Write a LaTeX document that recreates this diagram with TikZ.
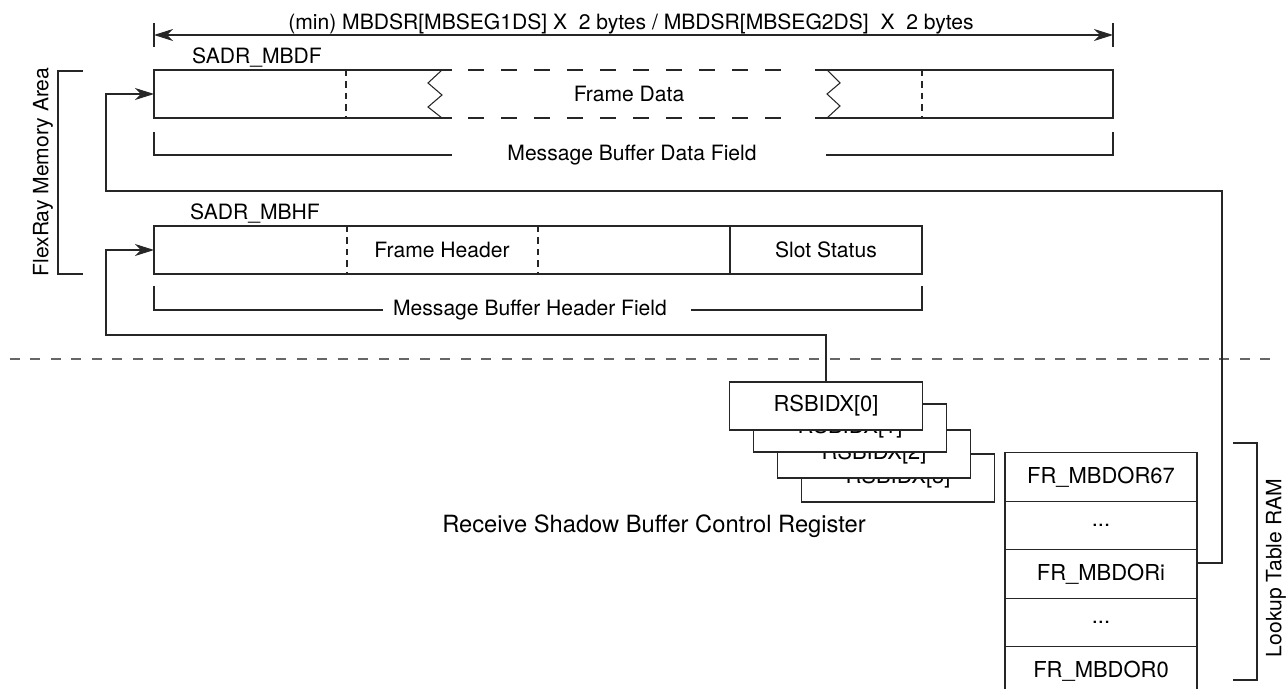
\documentclass[tikz,border=0pt]{standalone}
\usepackage{fontspec}
\setmainfont{TeX Gyre Heros}
\usepackage{tikz}
\usetikzlibrary{arrows.meta,positioning,calc}
\tikzset{
  lbl/.style={font=\fontsize{12}{14}\selectfont, inner sep=1pt},
  wire/.style={line width=0.6pt, draw=black!85},
  arr/.style={wire, -{Stealth[length=3.8mm, width=2.4mm, inset=1.2mm]}},
  dimarr/.style={wire, {Stealth[length=3.8mm, width=2.4mm, inset=1.2mm]}-{Stealth[length=3.8mm, width=2.4mm, inset=1.2mm]}},
  longdash/.style={wire, dash pattern=on 0.32cm off 0.34cm},
  shortdash/.style={wire, dash pattern=on 0.13cm off 0.1cm},
  sepline/.style={line width=0.6pt, draw=black!60, dash pattern=on 0.2cm off 0.21cm},
  regbox/.style={rectangle, draw=black!85, line width=0.6pt, fill=white, minimum width=3.86cm,
                 minimum height=0.96cm, inner sep=0pt, outer sep=0pt, font=\fontsize{12.5}{14}\selectfont},
  lutrow/.style={rectangle, draw=black!85, line width=0.6pt, fill=white, minimum width=3.84cm,
                 minimum height=0.97cm, inner sep=0pt, outer sep=0pt, font=\fontsize{12.5}{14}\selectfont},
}

\begin{document}
\begin{tikzpicture}[x=0.02cm, y=-0.02cm, node distance=0pt]
  \useasboundingbox (0,0) rectangle (1286,689);

  % size of the data field
  \node[lbl, anchor=base] (dimtxt) at (631,30) {(min) MBDSR[MBSEG1DS] X~~2 bytes / MBDSR[MBSEG2DS]~~X~~2 bytes};
  \coordinate (dimL) at (154,35);
  \coordinate (dimR) at (1113,35);
  \draw[dimarr] (dimL) -- (dimR);
  \draw[wire] (154,23) -- (154,47);
  \draw[wire] (1113,23) -- (1113,47);

  % message buffer data field
  \node[lbl] (sadrdf) at (257,57) {SADR\_MBDF};
  \draw[wire] (452,70) -- (154,70) -- (154,118) -- (452,118);
  \draw[wire] (442,70) -- (428,83) -- (442,95) -- (428,107) -- (442,118);
  \draw[longdash] (468,70) -- (796,70);
  \draw[longdash] (468,118) -- (796,118);
  \draw[wire] (827,70) -- (840,83) -- (827,94) -- (840,106) -- (827,118);
  \draw[wire] (815,70) -- (1113,70) -- (1113,118) -- (815,118);
  \draw[shortdash] (346,70) -- (346,118);
  \draw[shortdash] (922,70) -- (922,118);
  \node[lbl] (fdata) at (629,94) {Frame Data};
  \coordinate (dfin) at (154,94);

  \node[lbl] (mbdf) at (632,155) {Message Buffer Data Field};
  \draw[wire] (154,132) -- (154,155) -- (452,155);
  \draw[wire] (826,155) -- (1113,155) -- (1113,132);

  % message buffer header field
  \node[lbl] (sadrhf) at (255,213) {SADR\_MBHF};
  \draw[wire] (154,226) rectangle (922,274);
  \draw[shortdash] (347,226) -- (347,274);
  \draw[shortdash] (538,226) -- (538,274);
  \draw[wire] (730,226) -- (730,274);
  \node[lbl] (fhead) at (442,250) {Frame Header};
  \node[lbl] (slot) at (826,250) {Slot Status};
  \coordinate (hfin) at (154,250);

  \node[lbl] (mbhf) at (530,310) {Message Buffer Header Field};
  \draw[wire] (154,286) -- (154,310) -- (383,310);
  \draw[wire] (691,310) -- (922,310) -- (922,286);

  % flexray memory area
  \draw[wire] (83,71) -- (58,71) -- (58,274) -- (83,274);
  \node[lbl, rotate=90] (frarea) at (43,172) {FlexRay Memory Area};

  \draw[sepline] (10,359) -- (1272,359);

  % receive shadow buffer index registers
  \node[regbox] (r3) at (898,478) {RSBIDX[3]};
  \node[regbox] (r2) at (874,454) {RSBIDX[2]};
  \node[regbox] (r1) at (850,428) {RSBIDX[1]};
  \node[regbox] (r0) at (826,406) {RSBIDX[0]};
  \node[lbl, font=\fontsize{13.5}{16}\selectfont] (rsbcr) at (654,526) {Receive Shadow Buffer Control Register};

  % lookup table
  \node[lutrow] (lut67) at (1101,477) {FR\_MBDOR67};
  \node[lutrow, below=of lut67] (lutd1) {...};
  \node[lutrow, below=of lutd1] (luti) {FR\_MBDORi};
  \node[lutrow, below=of luti] (lutd2) {...};
  \node[lutrow, below=of lutd2] (lut0) {FR\_MBDOR0};
  \draw[wire] (1233,443) -- (1257,443) -- (1257,680) -- (1233,680);
  \node[lbl, rotate=90] (lutram) at (1276,568) {Lookup Table RAM};

  % pointers
  \draw[arr] ([yshift=0.22cm]luti.east) -| (1222,191) -| (106,94) -- (dfin);
  \draw[arr] (r0.north) |- (106,335) |- (hfin);
\end{tikzpicture}
\end{document}
